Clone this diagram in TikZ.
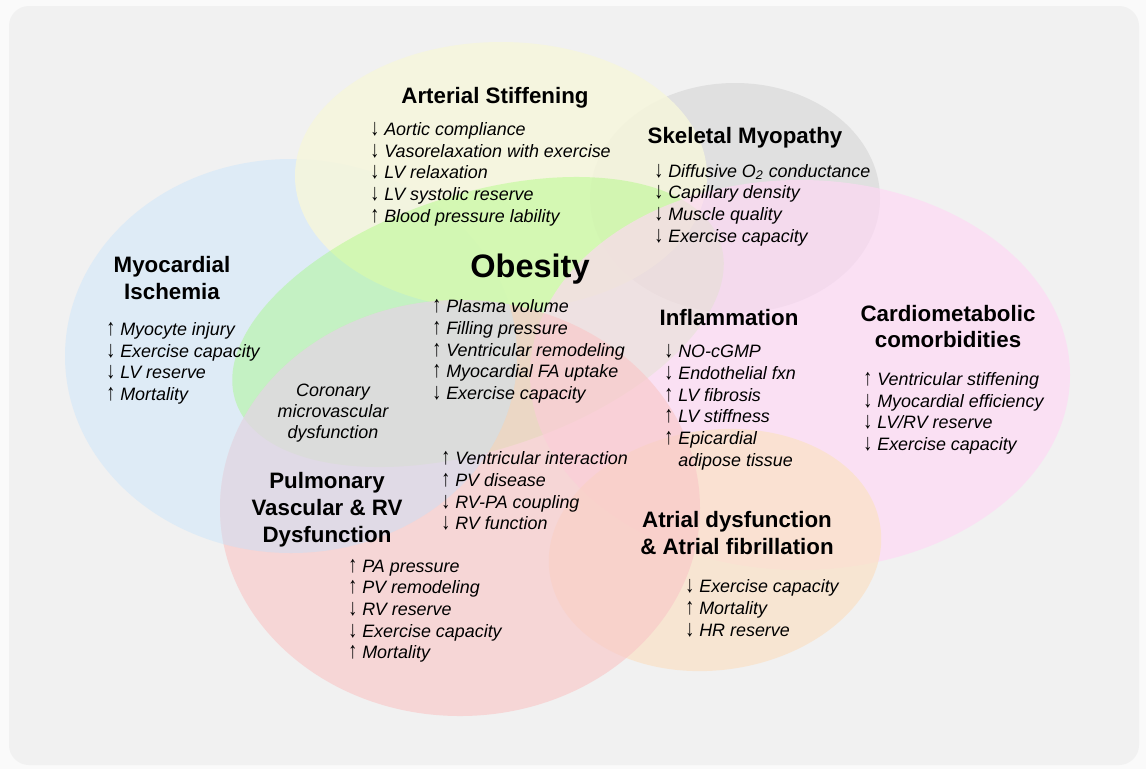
\documentclass[tikz,border=0pt]{standalone}
\usepackage{fontspec}
\setmainfont{Liberation Sans}
\usepackage{graphicx}
\usepackage{tikz}

\definecolor{pageWhite}{RGB}{250,250,250}
\definecolor{bgGray}{RGB}{241,241,241}
\definecolor{ischBlue}{RGB}{222,235,246}
\definecolor{ischTint}{RGB}{203,229,251}
\definecolor{myoGray}{RGB}{224,224,224}
\definecolor{stiffYellow}{RGB}{246,246,220}
\definecolor{obeseGreen}{RGB}{138,255,80}
\definecolor{metabPink}{RGB}{255,215,245}
\definecolor{atrialOrange}{RGB}{250,226,200}
\definecolor{pulmRed}{RGB}{249,200,200}

\newcommand{\arrUp}{{\upshape\smash{\raisebox{-0.1ex}{\scalebox{1}[1.3]{↑}}}}\ }
\newcommand{\arrDn}{{\upshape\smash{\raisebox{-0.1ex}{\scalebox{1}[1.3]{↓}}}}\ }

\begin{document}
\begin{tikzpicture}[x=0.02cm, y=-0.02cm,
   title/.style={font=\fontsize{12.7}{15}\selectfont\bfseries, anchor=base, inner sep=0pt},
   item/.style={font=\fontsize{10.2}{12}\selectfont\itshape, anchor=base west, inner sep=0pt}]
   \useasboundingbox (0,0) rectangle (1146,769);
   \fill[pageWhite] (0,0) rectangle (1146,769);
   \fill[bgGray, rounded corners=0.4cm] (9,6) rectangle (1139,765);

   \fill[ischBlue] (291,356) ellipse [x radius=226, y radius=197];
   \fill[myoGray] (735,198) ellipse [x radius=145, y radius=115];
   \fill[stiffYellow, fill opacity=0.85] (501,176) ellipse [x radius=206, y radius=134];
   \fill[obeseGreen, fill opacity=0.3, rotate around={18:(478,322)}] (478,322) ellipse [x radius=255, y radius=128];
   \fill[metabPink, fill opacity=0.65] (800,375) ellipse [x radius=270, y radius=195];
   \fill[atrialOrange, fill opacity=0.75, rotate around={8:(715,550)}] (715,550) ellipse [x radius=167, y radius=120];
   \fill[pulmRed, fill opacity=0.65] (460,508) ellipse [x radius=240, y radius=208];
   \begin{scope}
      \clip (460,508) ellipse [x radius=240, y radius=208];
      \fill[ischTint, fill opacity=0.4] (291,356) ellipse [x radius=226, y radius=197];
   \end{scope}

   \node[title] (arterial) at (495,103) {Arterial Stiffening};
   \node[item] (as1) at (370,135) {\arrDn Aortic compliance};
   \node[item] (as2) at (370,157) {\arrDn Vasorelaxation with exercise};
   \node[item] (as3) at (370,178) {\arrDn LV relaxation};
   \node[item] (as4) at (370,200) {\arrDn LV systolic reserve};
   \node[item] (as5) at (370,222) {\arrUp Blood pressure lability};

   \node[title] (skeletal) at (745,143) {Skeletal Myopathy};
   \node[item] (sm1) at (654,177) {\arrDn Diffusive O\textsubscript{2} conductance};
   \node[item] (sm2) at (654,198) {\arrDn Capillary density};
   \node[item] (sm3) at (654,220) {\arrDn Muscle quality};
   \node[item] (sm4) at (654,242) {\arrDn Exercise capacity};

   \node[title] (ischA) at (172,272) {Myocardial};
   \node[title] (ischB) at (172,299) {Ischemia};
   \node[item] (mi1) at (106,335) {\arrUp Myocyte injury};
   \node[item] (mi2) at (106,357) {\arrDn Exercise capacity};
   \node[item] (mi3) at (106,378) {\arrDn LV reserve};
   \node[item] (mi4) at (106,400) {\arrUp Mortality};

   \node[title, font=\fontsize{18.5}{22}\selectfont\bfseries] (obesity) at (530,277) {Obesity};
   \node[item] (ob1) at (432,312) {\arrUp Plasma volume};
   \node[item] (ob2) at (432,334) {\arrUp Filling pressure};
   \node[item] (ob3) at (432,356) {\arrUp Ventricular remodeling};
   \node[item] (ob4) at (432,377) {\arrUp Myocardial FA uptake};
   \node[item] (ob5) at (432,399) {\arrDn Exercise capacity};

   \node[item, anchor=base] (cmA) at (333,396) {Coronary};
   \node[item, anchor=base] (cmB) at (333,417) {microvascular};
   \node[item, anchor=base] (cmC) at (333,438) {dysfunction};

   \node[title] (pulmA) at (327,488) {Pulmonary};
   \node[title] (pulmB) at (327,515) {Vascular \& RV};
   \node[title] (pulmC) at (327,542) {Dysfunction};
   \node[item] (vi1) at (441,464) {\arrUp Ventricular interaction};
   \node[item] (vi2) at (441,486) {\arrUp PV disease};
   \node[item] (vi3) at (441,508) {\arrDn RV-PA coupling};
   \node[item] (vi4) at (441,529) {\arrDn RV function};
   \node[item] (pa1) at (348,572) {\arrUp PA pressure};
   \node[item] (pa2) at (348,593) {\arrUp PV remodeling};
   \node[item] (pa3) at (348,615) {\arrDn RV reserve};
   \node[item] (pa4) at (348,637) {\arrDn Exercise capacity};
   \node[item] (pa5) at (348,658) {\arrUp Mortality};

   \node[title] (inflam) at (729,325) {Inflammation};
   \node[item] (in1) at (664,357) {\arrDn NO-cGMP};
   \node[item] (in2) at (664,379) {\arrDn Endothelial fxn};
   \node[item] (in3) at (664,401) {\arrUp LV fibrosis};
   \node[item] (in4) at (664,422) {\arrUp LV stiffness};
   \node[item] (in5) at (664,444) {\arrUp Epicardial};
   \node[item] (in6) at (664,466) {\phantom{\arrUp}adipose tissue};

   \node[title] (cardA) at (948,321) {Cardiometabolic};
   \node[title] (cardB) at (948,347) {comorbidities};
   \node[item] (cc1) at (863,385) {\arrUp Ventricular stiffening};
   \node[item] (cc2) at (863,407) {\arrDn Myocardial efficiency};
   \node[item] (cc3) at (863,428) {\arrDn LV/RV reserve};
   \node[item] (cc4) at (863,450) {\arrDn Exercise capacity};

   \node[title] (atrA) at (737,527) {Atrial dysfunction};
   \node[title] (atrB) at (737,554) {\& Atrial fibrillation};
   \node[item] (af1) at (685,592) {\arrDn Exercise capacity};
   \node[item] (af2) at (685,614) {\arrUp Mortality};
   \node[item] (af3) at (685,636) {\arrDn HR reserve};
\end{tikzpicture}
\end{document}
